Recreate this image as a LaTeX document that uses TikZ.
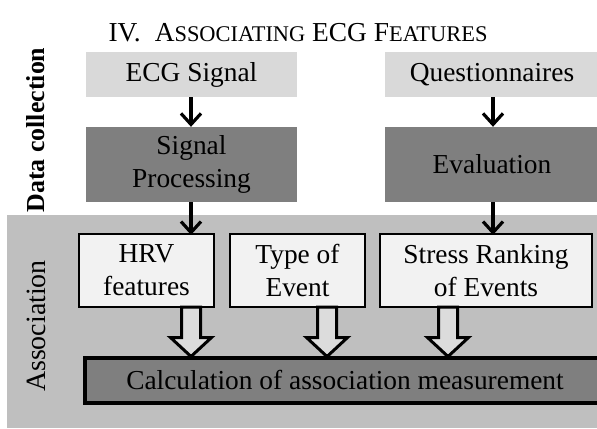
\documentclass[tikz,border=0pt]{standalone}
\usepackage{fontspec}
\setmainfont{Liberation Serif}
\usetikzlibrary{arrows.meta,calc}
\definecolor{lightbox}{HTML}{D9D9D9}
\definecolor{darkbox}{HTML}{7F7F7F}
\definecolor{assocbg}{HTML}{BFBFBF}
\definecolor{whitebox}{HTML}{F2F2F2}
\definecolor{hollowfill}{HTML}{DCDCDC}
\begin{document}
\begin{tikzpicture}[x=1bp,y=-1bp,
  every node/.style={font=\fontsize{27.5}{33}\selectfont, inner sep=0pt, align=center},
  srcbox/.style={fill=lightbox, minimum height=45bp},
  procbox/.style={fill=darkbox, minimum height=75bp},
  featbox/.style={fill=whitebox, draw=black, line width=2.2bp, minimum height=73bp},
  calcbox/.style={fill=darkbox, draw=black, line width=4bp, minimum height=45bp},
  thinarrow/.style={line width=3.2bp, -{Straight Barb[length=11bp,width=20bp,line width=3.2bp]}},
  sidelabel/.style={rotate=90, anchor=center}
]
\clip (0,0) rectangle (597,428);
\useasboundingbox (0,0) rectangle (597,428);
\fill[white] (0,0) rectangle (597,428);
% association background
\fill[assocbg] (7,215) rectangle (600,428);

% column coordinates
\coordinate (xa) at (191,0);
\coordinate (xb) at (493,0);
\coordinate (xh) at (191,0);
\coordinate (xt) at (327,0);
\coordinate (xs) at (448,0);

% title
\node (title) at (298,33) {IV.\hspace{14bp}A{\fontsize{22.5}{27}\selectfont SSOCIATING} ECG F{\fontsize{22.5}{27}\selectfont EATURES}};

% side labels
\node[sidelabel, font=\fontsize{26}{31}\selectfont\bfseries] (dc) at (36,130) {Data collection};
\node[sidelabel, font=\fontsize{28}{33}\selectfont] (as) at (36,326) {Association};

% data collection boxes
\node[srcbox, minimum width=211bp] (ecg) at (191.5,74.5) {ECG Signal};
\node[srcbox, minimum width=214bp] (quest) at (492,74.5) {Questionnaires};
\node[procbox, minimum width=211bp] (sp) at (191.5,164.5) {Signal\\Processing};
\node[procbox, minimum width=214bp] (eval) at (492,164.5) {Evaluation};

% association boxes
\node[featbox, minimum width=135bp] (hrv) at (146.5,270.5) {HRV\\features};
\node[featbox, minimum width=135bp] (type) at (297.5,270.5) {Type of\\Event};
\node[featbox, minimum width=212bp] (stress) at (486,270.5) {Stress Ranking\\of Events};
\node[calcbox, minimum width=520bp, anchor=west] (calc) at (83,380) {Calculation of association measurement};

% thin arrows
\draw[thinarrow] (ecg.south -| xa) -- (sp.north -| xa);
\draw[thinarrow] (quest.south -| xb) -- (eval.north -| xb);
\draw[thinarrow] (sp.south -| xa) -- ([yshift=-2bp]hrv.north -| xa);
\draw[thinarrow] (eval.south -| xb) -- ([yshift=-2bp]stress.north -| xb);

% hollow arrows
\foreach \n/\xx in {hrv/xh, type/xt, stress/xs} {
  \coordinate (top-\n) at ([yshift=1bp]\n.south -| \xx);
  \coordinate (tip-\n) at ([yshift=-1bp]calc.north -| \xx);
  \filldraw[fill=hollowfill, draw=black, line width=3bp, line join=miter]
    ($(top-\n)+(-9.5,0)$) -- ($(top-\n)+(9.5,0)$) -- ($(tip-\n)+(9.5,-19)$) -- ($(tip-\n)+(20.5,-19)$)
    -- (tip-\n) -- ($(tip-\n)+(-20.5,-19)$) -- ($(tip-\n)+(-9.5,-19)$) -- cycle;
}
\end{tikzpicture}
\end{document}
